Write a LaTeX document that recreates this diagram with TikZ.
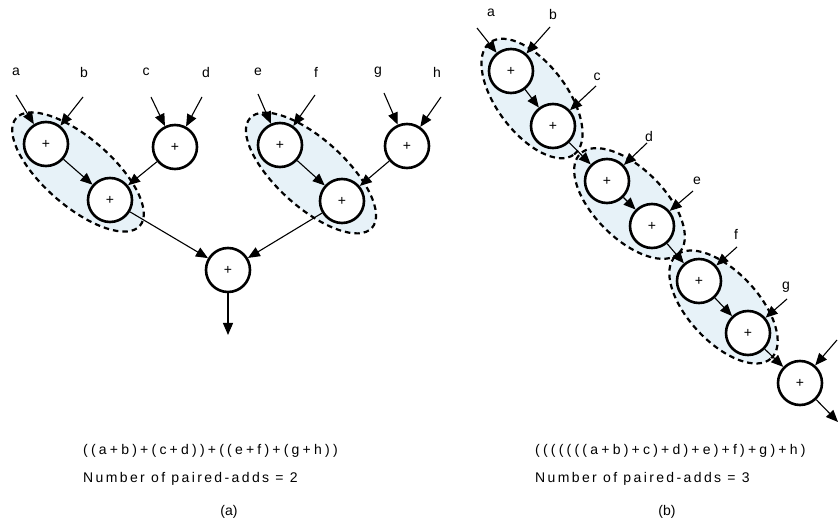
\documentclass[tikz,border=0pt]{standalone}
\usepackage{fontspec}
\setmainfont{Liberation Sans}
\newfontfamily\formulafont[LetterSpace=23]{Liberation Sans}
\newfontfamily\countfont[LetterSpace=17]{Liberation Sans}
\usetikzlibrary{arrows.meta,shapes.geometric,backgrounds,calc}
\definecolor{pairfill}{RGB}{231,242,248}

\begin{document}
\begin{tikzpicture}[x=1pt,y=-1pt,
    adder/.style={circle,draw,line width=2.6pt,fill=white,minimum size=44pt,inner sep=0pt,font=\fontsize{14}{16}\selectfont},
    feed/.style={line width=1.1pt,-{Triangle[length=12pt,width=10pt]}},
    pair/.style={ellipse,draw,dash pattern=on 5.5pt off 4pt,line width=2.2pt,fill=pairfill,inner sep=0pt},
    lbl/.style={font=\fontsize{14}{16}\selectfont,inner sep=1pt},
    caption/.style={font=\fontsize{14}{16}\selectfont,anchor=west,inner sep=0pt}]
  \clip (0,0) rectangle (838,529);

  % (a) balanced tree
  \node[adder] (ta1) at (46,144) {+};
  \node[adder] (ta2) at (110,200) {+};
  \node[adder] (ta3) at (175,147) {+};
  \node[adder] (ta4) at (280,145) {+};
  \node[adder] (ta5) at (342,201) {+};
  \node[adder] (ta6) at (407,146) {+};
  \node[adder] (ta7) at (228,270) {+};
  \coordinate (outa) at (228,335);

  \foreach \n/\x/\sx/\sy in {a/16/16/95, b/84/83/97, c/146/151/97, d/206/202/97,
                             e/258/258/94, f/316/315/95, g/378/384/93, h/437/441/97}{
    \node[lbl] (la\n) at (\x,72) {\n};
    \coordinate (ia\n) at (\sx,\sy);
  }

  \begin{scope}[on background layer]
    \node[pair,minimum width=164pt,minimum height=68pt,rotate=-41] (pa1) at ($(ta1)!.5!(ta2)$) {};
    \node[pair,minimum width=164pt,minimum height=68pt,rotate=-42] (pa2) at ($(ta4)!.5!(ta5)$) {};
  \end{scope}

  \draw[feed] (iaa) -- (ta1);
  \draw[feed] (iab) -- (ta1);
  \draw[feed] (iac) -- (ta3);
  \draw[feed] (iad) -- (ta3);
  \draw[feed] (iae) -- (ta4);
  \draw[feed] (iaf) -- (ta4);
  \draw[feed] (iag) -- (ta6);
  \draw[feed] (iah) -- (ta6);
  \draw[feed] (ta1) -- (ta2);
  \draw[feed] (ta3) -- (ta2);
  \draw[feed] (ta4) -- (ta5);
  \draw[feed] (ta6) -- (ta5);
  \draw[feed] (ta2) -- (ta7);
  \draw[feed] (ta5) -- (ta7);
  \draw[feed] (ta7) -- (outa);

  % (b) linear chain
  \node[adder] (tb1) at (511,71) {+};
  \node[adder] (tb2) at (553,126) {+};
  \node[adder] (tb3) at (607,181) {+};
  \node[adder] (tb4) at (652,226) {+};
  \node[adder] (tb5) at (699,281) {+};
  \node[adder] (tb6) at (748,333) {+};
  \node[adder] (tb7) at (800,383) {+};
  \coordinate (outb) at (838,422);

  \foreach \n/\x/\y/\sx/\sy in {a/491/13/477/28, b/553/15/550/27, c/597/77/596/86,
                                d/649/136/647/143, e/697/181/693/191, f/736/234/737/247,
                                g/786/287/787/299, h/843/332/837/340}{
    \node[lbl] (lb\n) at (\x,\y) {\n};
    \coordinate (ib\n) at (\sx,\sy);
  }

  \begin{scope}[on background layer]
    \node[pair,minimum width=140pt,minimum height=70pt,rotate=-53] (pb1) at ($(tb1)!.5!(tb2)$) {};
    \node[pair,minimum width=140pt,minimum height=70pt,rotate=-45] (pb2) at ($(tb3)!.5!(tb4)$) {};
    \node[pair,minimum width=140pt,minimum height=70pt,rotate=-47] (pb3) at ($(tb5)!.5!(tb6)$) {};
  \end{scope}

  \draw[feed] (iba) -- (tb1);
  \draw[feed] (ibb) -- (tb1);
  \draw[feed] (ibc) -- (tb2);
  \draw[feed] (ibd) -- (tb3);
  \draw[feed] (ibe) -- (tb4);
  \draw[feed] (ibf) -- (tb5);
  \draw[feed] (ibg) -- (tb6);
  \draw[feed] (ibh) -- (tb7);
  \draw[feed] (tb1) -- (tb2);
  \draw[feed] (tb2) -- (tb3);
  \draw[feed] (tb3) -- (tb4);
  \draw[feed] (tb4) -- (tb5);
  \draw[feed] (tb5) -- (tb6);
  \draw[feed] (tb6) -- (tb7);
  \draw[feed] (tb7) -- (outb);

  % captions
  \node[caption] (fa) at (83,451) {\formulafont ((a+b)+(c+d))+((e+f)+(g+h))};
  \node[caption] (na) at (83,479) {\countfont Number of paired-adds = 2};
  \node[caption,anchor=center] (ca) at (229,512) {(a)};
  \node[caption] (fb) at (535,451) {\formulafont (((((((a+b)+c)+d)+e)+f)+g)+h)};
  \node[caption] (nb) at (535,479) {\countfont Number of paired-adds = 3};
  \node[caption,anchor=center] (cb) at (667,512) {(b)};
\end{tikzpicture}
\end{document}
